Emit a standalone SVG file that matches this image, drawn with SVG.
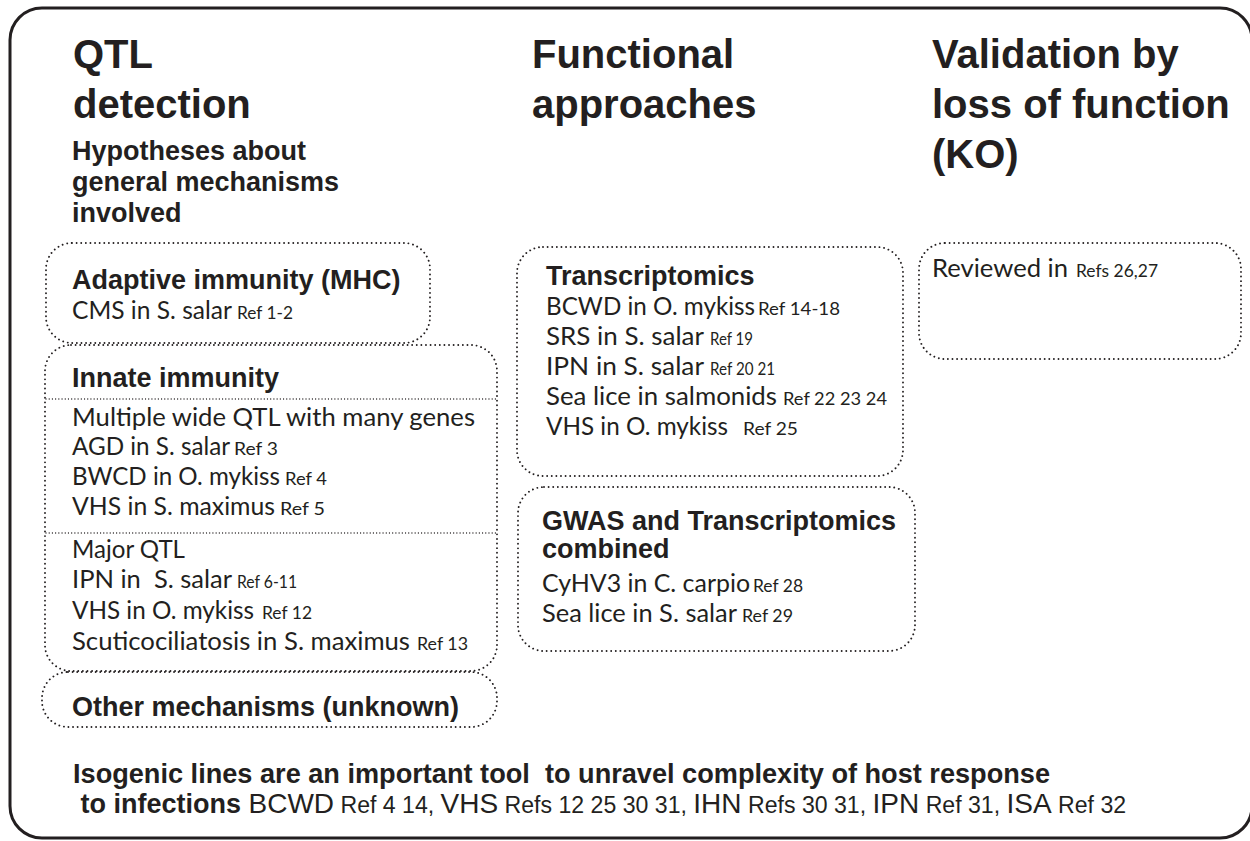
<svg xmlns="http://www.w3.org/2000/svg" width="1250" height="841" viewBox="0 0 1250 841">
<style>
.frame{fill:#fff;stroke:#231f20;stroke-width:3}
.dot{fill:none;stroke:#231f20;stroke-width:1.9;stroke-dasharray:0.01 4.6;stroke-linecap:round}
.dl{fill:none;stroke:#231f20;stroke-width:1.3;stroke-dasharray:0.01 3.2;stroke-linecap:round}
text{fill:#231f20}
.t{font-family:"Liberation Sans",Arial,sans-serif;font-weight:bold;font-size:40px}
.h{font-family:"Liberation Sans",Arial,sans-serif;font-weight:bold;font-size:27px}
.r{font-family:Lato,"Open Sans",sans-serif;font-size:24.5px}
.s{font-family:Lato,"Open Sans",sans-serif;font-size:17.5px}
.br{font-family:"Liberation Sans",Arial,sans-serif;font-size:28px}
.bs{font-family:"Liberation Sans",Arial,sans-serif;font-size:23.1px}
</style>
<rect class="frame" x="10" y="8" width="1242" height="830" rx="32"/>

<g id="col1-title">
<text class="t" x="73" y="68">QTL</text>
<text class="t" x="73" y="118">detection</text>
<text class="h" x="72" y="160">Hypotheses about</text>
<text class="h" x="72" y="191">general mechanisms</text>
<text class="h" x="72" y="222">involved</text>
</g>
<g id="col2-title">
<text class="t" x="532" y="68">Functional</text>
<text class="t" x="532" y="118">approaches</text>
</g>
<g id="col3-title">
<text class="t" x="932" y="68">Validation by</text>
<text class="t" x="932" y="118">loss of function</text>
<text class="t" x="932" y="168">(KO)</text>
</g>

<g id="adaptive">
<rect class="dot" x="46" y="243" width="384" height="100" rx="26"/>
<text class="h" x="72" y="289">Adaptive immunity (MHC)</text>
<text class="r" x="72" y="319" textLength="160" lengthAdjust="spacingAndGlyphs">CMS in S. salar</text>
<text class="s" x="237" y="319" textLength="56" lengthAdjust="spacingAndGlyphs">Ref 1-2</text>
</g>

<g id="innate">
<rect class="dot" x="45" y="345" width="452" height="326" rx="26"/>
<line class="dl" x1="46" y1="399" x2="496" y2="399"/>
<line class="dl" x1="46" y1="533" x2="496" y2="533"/>
<text class="h" x="72" y="387">Innate immunity</text>
<text class="r" x="72" y="426" textLength="403" lengthAdjust="spacingAndGlyphs">Multiple wide QTL with many genes</text>
<text class="r" x="72" y="455" textLength="158" lengthAdjust="spacingAndGlyphs">AGD in S. salar</text>
<text class="s" x="234" y="455" textLength="44" lengthAdjust="spacingAndGlyphs">Ref 3</text>
<text class="r" x="72" y="485" textLength="208" lengthAdjust="spacingAndGlyphs">BWCD in O. mykiss</text>
<text class="s" x="285" y="485" textLength="42" lengthAdjust="spacingAndGlyphs">Ref 4</text>
<text class="r" x="72" y="515" textLength="203" lengthAdjust="spacingAndGlyphs">VHS in S. maximus</text>
<text class="s" x="280" y="515" textLength="45" lengthAdjust="spacingAndGlyphs">Ref 5</text>
<text class="r" x="72" y="558" textLength="113" lengthAdjust="spacingAndGlyphs">Major QTL</text>
<text class="r" x="72" y="588" textLength="160" lengthAdjust="spacingAndGlyphs" xml:space="preserve">IPN in  S. salar</text>
<text class="s" x="237" y="588" textLength="60" lengthAdjust="spacingAndGlyphs">Ref 6-11</text>
<text class="r" x="72" y="619" textLength="182" lengthAdjust="spacingAndGlyphs">VHS in O. mykiss</text>
<text class="s" x="262" y="619" textLength="50" lengthAdjust="spacingAndGlyphs">Ref 12</text>
<text class="r" x="72" y="650" textLength="338" lengthAdjust="spacingAndGlyphs">Scuticociliatosis in S. maximus</text>
<text class="s" x="417" y="650" textLength="51" lengthAdjust="spacingAndGlyphs">Ref 13</text>
</g>

<g id="other">
<rect class="dot" x="42" y="672" width="455" height="55" rx="26"/>
<text class="h" x="72" y="716">Other mechanisms (unknown)</text>
</g>

<g id="transcriptomics">
<rect class="dot" x="517" y="247" width="386" height="229" rx="26"/>
<text class="h" x="546" y="285">Transcriptomics</text>
<text class="r" x="546" y="315" textLength="209" lengthAdjust="spacingAndGlyphs">BCWD in O. mykiss</text>
<text class="s" x="758" y="315" textLength="82" lengthAdjust="spacingAndGlyphs">Ref 14-18</text>
<text class="r" x="546" y="345" textLength="158" lengthAdjust="spacingAndGlyphs">SRS in S. salar</text>
<text class="s" x="710" y="345" textLength="43" lengthAdjust="spacingAndGlyphs">Ref 19</text>
<text class="r" x="546" y="375" textLength="158" lengthAdjust="spacingAndGlyphs">IPN in S. salar</text>
<text class="s" x="710" y="375" textLength="65" lengthAdjust="spacingAndGlyphs">Ref 20 21</text>
<text class="r" x="546" y="405" textLength="231" lengthAdjust="spacingAndGlyphs">Sea lice in salmonids</text>
<text class="s" x="783" y="405" textLength="104" lengthAdjust="spacingAndGlyphs">Ref 22 23 24</text>
<text class="r" x="546" y="435" textLength="182" lengthAdjust="spacingAndGlyphs">VHS in O. mykiss</text>
<text class="s" x="743" y="435" textLength="55" lengthAdjust="spacingAndGlyphs">Ref 25</text>
</g>

<g id="gwas">
<rect class="dot" x="518" y="487" width="397" height="164" rx="26"/>
<text class="h" x="542" y="530">GWAS and Transcriptomics</text>
<text class="h" x="542" y="558">combined</text>
<text class="r" x="542" y="592" textLength="208" lengthAdjust="spacingAndGlyphs">CyHV3 in C. carpio</text>
<text class="s" x="753" y="592" textLength="50" lengthAdjust="spacingAndGlyphs">Ref 28</text>
<text class="r" x="542" y="622" textLength="195" lengthAdjust="spacingAndGlyphs">Sea lice in S. salar</text>
<text class="s" x="742" y="622" textLength="51" lengthAdjust="spacingAndGlyphs">Ref 29</text>
</g>

<g id="reviewed">
<rect class="dot" x="919" y="243" width="322" height="116" rx="26"/>
<text class="r" x="932" y="277" textLength="136" lengthAdjust="spacingAndGlyphs">Reviewed in</text>
<text class="s" x="1076" y="277" textLength="82" lengthAdjust="spacingAndGlyphs">Refs 26,27</text>
</g>

<g id="isogenic">
<text class="h" x="73" y="783" xml:space="preserve" textLength="977" lengthAdjust="spacingAndGlyphs">Isogenic lines are an important tool  to unravel complexity of host response</text>
<text x="73" y="813" xml:space="preserve"><tspan class="h"> to infections </tspan><tspan class="br">BCWD</tspan><tspan class="bs"> Ref 4 14, </tspan><tspan class="br">VHS</tspan><tspan class="bs"> Refs 12 25 30 31, </tspan><tspan class="br">IHN</tspan><tspan class="bs"> Refs 30 31, </tspan><tspan class="br">IPN</tspan><tspan class="bs"> Ref 31, </tspan><tspan class="br">ISA</tspan><tspan class="bs"> Ref 32</tspan></text>
</g>

<g id="connectors"></g>
</svg>
